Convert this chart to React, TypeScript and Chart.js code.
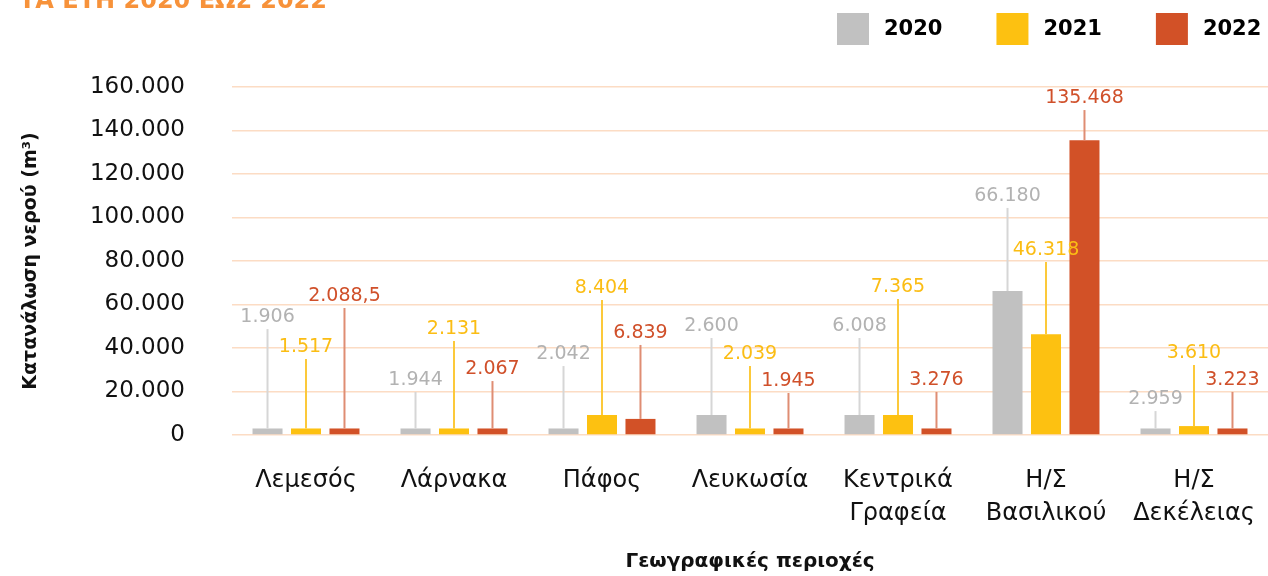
import React, { useEffect, useRef } from 'react';
import { Chart, registerables } from 'chart.js';

Chart.register(...registerables);

const categories: string[][] = [
  ['Λεμεσός'],
  ['Λάρνακα'],
  ['Πάφος'],
  ['Λευκωσία'],
  ['Κεντρικά', 'Γραφεία'],
  ['Η/Σ', 'Βασιλικού'],
  ['Η/Σ', 'Δεκέλειας'],
];
const seriesNames = ['2020', '2021', '2022'];
const values2020 = [3000, 3000, 3000, 9200, 9200, 66180, 3000];
const values2021 = [3000, 3000, 9200, 3000, 9200, 46318, 4100];
const values2022 = [3000, 3000, 7400, 3000, 3000, 135468, 3000];
const labels2020 = ['1.906', '1.944', '2.042', '2.600', '6.008', '66.180', '2.959'];
const labels2021 = ['1.517', '2.131', '8.404', '2.039', '7.365', '46.318', '3.610'];
const labels2022 = ['2.088,5', '2.067', '6.839', '1.945', '3.276', '135.468', '3.223'];
const callout2020 = [48700, 19800, 31700, 44600, 44600, 104400, 11000];
const callout2021 = [34900, 43200, 62100, 31700, 62500, 79500, 32200];
const callout2022 = [58400, 24800, 41400, 19300, 19800, 149400, 19800];
const yMin = 0;
const yMax = 160000;
const yStep = 20000;
const titleText = 'ΤΑ ΕΤΗ 2020 ΕΩΣ 2022';
const yTitle = 'Κατανάλωση νερού (m³)';
const xTitle = 'Γεωγραφικές περιοχές';

const barColors = ['#c1c1c1', '#fdc111', '#d25127'];
const labelColors = ['#b2b2b2', '#fbbd14', '#d0502a'];
const lineColors = ['#d6d6d6', '#fcc93a', '#df8d73'];

const allLabels = [labels2020, labels2021, labels2022];
const allCallouts = [callout2020, callout2021, callout2022];

const FONT = 'DejaVu Sans';

function fmt(v: number): string {
  if (v === 0) return '0';
  return String(v).replace(/\B(?=(\d{3})+(?!\d))/g, '.');
}

const calloutPlugin = {
  id: 'callouts',
  afterDatasetsDraw(chart: any) {
    const ctx = chart.ctx;
    const yScale = chart.scales.y;
    ctx.save();
    chart.data.datasets.forEach((ds: any, di: number) => {
      const meta = chart.getDatasetMeta(di);
      meta.data.forEach((bar: any, i: number) => {
        const top = yScale.getPixelForValue(allCallouts[di][i]);
        ctx.strokeStyle = lineColors[di];
        ctx.lineWidth = 2;
        ctx.beginPath();
        ctx.moveTo(bar.x, bar.y);
        ctx.lineTo(bar.x, top);
        ctx.stroke();
        ctx.fillStyle = labelColors[di];
        ctx.font = `19px "${FONT}"`;
        ctx.textAlign = 'center';
        ctx.textBaseline = 'alphabetic';
        ctx.fillText(allLabels[di][i], bar.x, top - 7);
      });
    });
    ctx.restore();
  },
};

const headerPlugin = {
  id: 'header',
  afterDraw(chart: any) {
    const ctx = chart.ctx;
    ctx.save();
    ctx.fillStyle = '#f7923a';
    ctx.font = `bold 24px "${FONT}"`;
    ctx.textAlign = 'left';
    ctx.textBaseline = 'alphabetic';
    ctx.fillText(titleText, 19, 8);
    let x = 837;
    ctx.font = `bold 21px "${FONT}"`;
    ctx.textBaseline = 'middle';
    chart.data.datasets.forEach((ds: any) => {
      ctx.fillStyle = ds.backgroundColor;
      ctx.fillRect(x, 13, 32, 32);
      ctx.fillStyle = '#000';
      ctx.fillText(ds.label, x + 47, 30);
      x += 47 + ctx.measureText(ds.label).width + 54;
    });
    ctx.restore();
  },
};

export default function App() {
  const ref = useRef<HTMLCanvasElement>(null);
  useEffect(() => {
    if (!ref.current) return;
    Chart.defaults.font.family = FONT;
    const chart = new Chart(ref.current, {
      type: 'bar',
      data: {
        labels: categories,
        datasets: [values2020, values2021, values2022].map((vals, i) => ({
          label: seriesNames[i],
          data: vals,
          backgroundColor: barColors[i],
          borderWidth: 0,
          categoryPercentage: 0.78,
          barPercentage: 0.78,
        })),
      },
      options: {
        responsive: false,
        animation: false,
        layout: { padding: { top: 87, right: 0, bottom: 0, left: 0 } },
        plugins: {
          legend: { display: false },
          tooltip: { enabled: false },
          title: { display: false },
        },
        scales: {
          x: {
            grid: { display: false, drawTicks: false },
            border: { display: false },
            ticks: {
              color: '#111',
              font: { size: 24, lineHeight: 1.375 },
              padding: 29,
              maxRotation: 0,
              autoSkip: false,
            },
            title: {
              display: true,
              text: xTitle,
              color: '#111',
              font: { size: 20, weight: 'bold', lineHeight: 1.2 },
              padding: { top: 0, bottom: 2 },
            },
            afterFit(scale: any) {
              scale.height = 141;
              scale.paddingLeft = 0;
              scale.paddingRight = 0;
            },
          },
          y: {
            min: yMin,
            max: yMax,
            grid: { color: '#fcdcc4', lineWidth: 1.5, drawTicks: false },
            border: { display: false },
            ticks: {
              stepSize: yStep,
              color: '#111',
              font: { size: 23 },
              padding: 47,
              callback: (v: any) => fmt(Number(v)),
            },
            title: {
              display: true,
              text: yTitle,
              color: '#111',
              font: { size: 19, weight: 'bold', lineHeight: 1.2 },
              padding: { top: 20, bottom: 0 },
            },
            afterFit(scale: any) {
              scale.width = 232;
            },
          },
        },
      },
      plugins: [calloutPlugin, headerPlugin],
    } as any);
    return () => chart.destroy();
  }, []);
  return (
    <div style={{ position: 'fixed', left: 0, top: 0, width: 1268, height: 576, background: '#fff' }}>
      <canvas ref={ref} width={1268} height={576} />
    </div>
  );
}
